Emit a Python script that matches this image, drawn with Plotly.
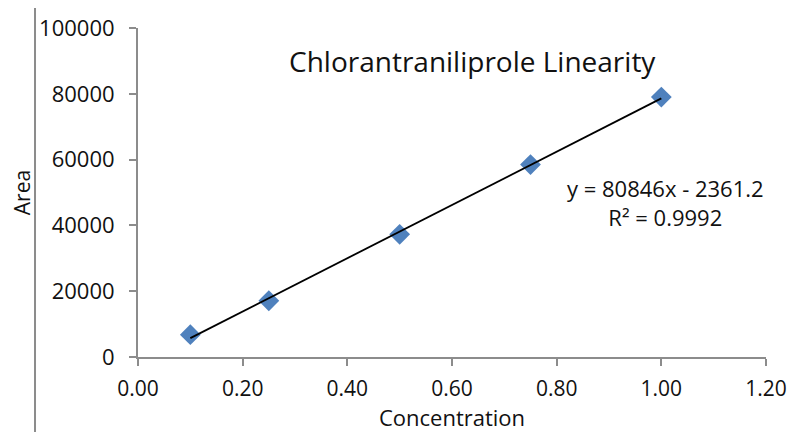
import numpy as np
import plotly.graph_objects as go

concentration = [0.10, 0.25, 0.50, 0.75, 1.00]
area = [6800, 17100, 37300, 58500, 79000]
x_ticks = [0.0, 0.2, 0.4, 0.6, 0.8, 1.0, 1.2]
y_ticks = [0, 20000, 40000, 60000, 80000, 100000]
equation_text = "y = 80846x - 2361.2<br>R² = 0.9992"
title_text = "Chlorantraniliprole Linearity"

slope, intercept = np.polyfit(concentration, area, 1)
fit_x = [min(concentration), max(concentration)]
fit_y = [slope * v + intercept for v in fit_x]

FONT = "Open Sans"
AXIS_COLOR = "#8c8c8c"

fig = go.Figure()
fig.add_trace(go.Scatter(x=concentration, y=area, mode="markers",
                         marker=dict(symbol="diamond", size=16, color="#4F81BD",
                                     line=dict(width=0)),
                         showlegend=False))
fig.add_trace(go.Scatter(x=fit_x, y=fit_y, mode="lines",
                         line=dict(color="black", width=1.8), showlegend=False))

fig.update_layout(
    width=800, height=432,
    margin=dict(l=130, r=42, t=20, b=83, autoexpand=False),
    paper_bgcolor="white", plot_bgcolor="white",
    font=dict(family=FONT, size=21, color="#111111"),
    xaxis=dict(range=[0, 1.2], tickvals=x_ticks, ticktext=[f"{v:.2f}" for v in x_ticks],
               showgrid=False, zeroline=False, showline=True, linecolor=AXIS_COLOR,
               linewidth=2, ticks="outside", ticklen=7, tickcolor=AXIS_COLOR, tickwidth=2,
               tickfont=dict(size=21), ticklabelstandoff=5, automargin=False,
               title=dict(text="Concentration", standoff=5, font=dict(size=22))),
    yaxis=dict(range=[0, 100000], tickvals=y_ticks, ticktext=[str(v) for v in y_ticks],
               showgrid=False, zeroline=False, showline=True, linecolor=AXIS_COLOR,
               linewidth=2, ticks="outside", ticklen=7, tickcolor=AXIS_COLOR, tickwidth=2,
               tickfont=dict(size=22), ticklabelstandoff=10, automargin=False,
               title=dict(text="Area", standoff=10, font=dict(size=21))),
)
fig.add_annotation(xref="paper", yref="paper", x=0.532, y=0.90, text=title_text,
                   showarrow=False, font=dict(size=28, family=FONT, color="#111111"),
                   xanchor="center", yanchor="middle")
fig.add_annotation(xref="x", yref="y", x=1.007, y=47000, text=equation_text,
                   showarrow=False, font=dict(size=22, family=FONT, color="#111111"),
                   xanchor="center", yanchor="middle", align="center")
fig.add_shape(type="line", xref="paper", yref="paper", x0=-0.164, x1=-0.164,
              y0=-0.3, y1=1.1, line=dict(color=AXIS_COLOR, width=2))
fig.write_html("out.html")
